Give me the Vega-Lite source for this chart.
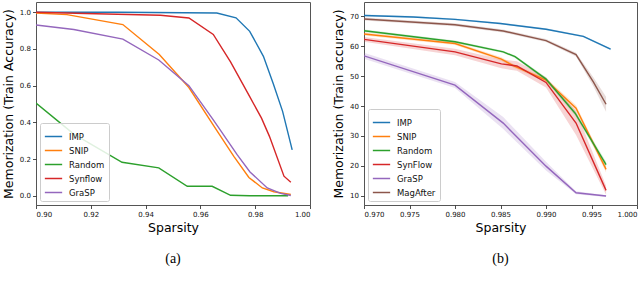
{
  "$schema": "https://vega.github.io/schema/vega-lite/v6.json",
  "padding": {"left": 1, "top": 1, "right": 0, "bottom": 0},
  "spacing": 21,
  "background": "white",
  "resolve": {"scale": {"color": "independent"}, "legend": {"color": "independent"}},
  "config": {
    "view": {"stroke": "#555", "strokeWidth": 1},
    "axis": {
      "grid": false, "domain": false, "tickColor": "#222", "tickSize": 3.5, "tickWidth": 0.8,
      "labelFont": "DejaVu Sans", "labelFontSize": 7, "labelColor": "#111", "labelPadding": 2,
      "labelOverlap": false,
      "titleFont": "DejaVu Sans", "titleFontSize": 12.5, "titleFontWeight": "normal", "titleColor": "#000"
    },
    "legend": {
      "orient": "bottom-left", "title": null, "symbolType": "stroke", "symbolSize": 300,
      "symbolStrokeWidth": 1.5, "labelFont": "DejaVu Sans", "labelFontSize": 8.5, "labelColor": "#111",
      "strokeColor": "#cccccc", "fillColor": "rgba(255,255,255,0.85)", "cornerRadius": 2,
      "padding": 4, "rowPadding": -4.3, "offset": 4, "labelOffset": 6
    },
    "title": {"font": "Liberation Serif", "fontSize": 14, "fontWeight": "normal", "color": "#000"}
  },
  "hconcat": [
    {
      "width": 274, "height": 203,
      "title": {"text": "(a)", "orient": "bottom", "offset": 18},
      "data": {"values": [
        {"s": "IMP", "x": 0.900, "y": 1.0},
        {"s": "IMP", "x": 0.930, "y": 1.0},
        {"s": "IMP", "x": 0.966, "y": 0.996},
        {"s": "IMP", "x": 0.973, "y": 0.97},
        {"s": "IMP", "x": 0.978, "y": 0.896},
        {"s": "IMP", "x": 0.983, "y": 0.76},
        {"s": "IMP", "x": 0.9866, "y": 0.61},
        {"s": "IMP", "x": 0.990, "y": 0.46},
        {"s": "IMP", "x": 0.9935, "y": 0.25},
        {"s": "SNIP", "x": 0.900, "y": 0.996},
        {"s": "SNIP", "x": 0.9113, "y": 0.987},
        {"s": "SNIP", "x": 0.9317, "y": 0.933},
        {"s": "SNIP", "x": 0.945, "y": 0.77},
        {"s": "SNIP", "x": 0.9558, "y": 0.59},
        {"s": "SNIP", "x": 0.965, "y": 0.378},
        {"s": "SNIP", "x": 0.9722, "y": 0.215},
        {"s": "SNIP", "x": 0.9777, "y": 0.10},
        {"s": "SNIP", "x": 0.9826, "y": 0.043},
        {"s": "SNIP", "x": 0.9868, "y": 0.022},
        {"s": "SNIP", "x": 0.993, "y": 0.007},
        {"s": "Random", "x": 0.900, "y": 0.505},
        {"s": "Random", "x": 0.9138, "y": 0.336},
        {"s": "Random", "x": 0.9314, "y": 0.183},
        {"s": "Random", "x": 0.9448, "y": 0.152},
        {"s": "Random", "x": 0.9552, "y": 0.052},
        {"s": "Random", "x": 0.9643, "y": 0.052},
        {"s": "Random", "x": 0.971, "y": 0.003},
        {"s": "Random", "x": 0.978, "y": 0.0},
        {"s": "Random", "x": 0.992, "y": 0.0},
        {"s": "Synflow", "x": 0.900, "y": 1.0},
        {"s": "Synflow", "x": 0.918, "y": 0.993},
        {"s": "Synflow", "x": 0.9454, "y": 0.984},
        {"s": "Synflow", "x": 0.9558, "y": 0.969},
        {"s": "Synflow", "x": 0.9647, "y": 0.879},
        {"s": "Synflow", "x": 0.971, "y": 0.73},
        {"s": "Synflow", "x": 0.978, "y": 0.54},
        {"s": "Synflow", "x": 0.9823, "y": 0.423},
        {"s": "Synflow", "x": 0.9852, "y": 0.324},
        {"s": "Synflow", "x": 0.9905, "y": 0.107},
        {"s": "Synflow", "x": 0.993, "y": 0.074},
        {"s": "GraSP", "x": 0.900, "y": 0.931},
        {"s": "GraSP", "x": 0.9138, "y": 0.906},
        {"s": "GraSP", "x": 0.9317, "y": 0.854},
        {"s": "GraSP", "x": 0.9448, "y": 0.74},
        {"s": "GraSP", "x": 0.9558, "y": 0.60},
        {"s": "GraSP", "x": 0.9649, "y": 0.41},
        {"s": "GraSP", "x": 0.9734, "y": 0.224},
        {"s": "GraSP", "x": 0.9781, "y": 0.13},
        {"s": "GraSP", "x": 0.9844, "y": 0.043},
        {"s": "GraSP", "x": 0.9893, "y": 0.013},
        {"s": "GraSP", "x": 0.993, "y": 0.002}
      ]},
      "mark": {"type": "line", "strokeWidth": 1.4, "clip": true},
      "encoding": {
        "x": {"field": "x", "type": "quantitative", "title": "Sparsity",
              "scale": {"domain": [0.90, 1.00], "nice": false, "zero": false},
              "axis": {"values": [0.90, 0.92, 0.94, 0.96, 0.98, 1.00], "format": ".2f"}},
        "y": {"field": "y", "type": "quantitative", "title": "Memorization (Train Accuracy)",
              "scale": {"domain": [-0.05, 1.056], "nice": false, "zero": false},
              "axis": {"values": [0, 0.2, 0.4, 0.6, 0.8, 1.0], "format": ".1f"}},
        "color": {"field": "s", "type": "nominal",
                  "scale": {"domain": ["IMP", "SNIP", "Random", "Synflow", "GraSP"],
                            "range": ["#1f77b4", "#ff7f0e", "#2ca02c", "#d62728", "#9467bd"]}}
      }
    },
    {
      "width": 273, "height": 203,
      "title": {"text": "(b)", "orient": "bottom", "offset": 18},
      "data": {"values": [
        {"s": "IMP", "x": 0.970, "y": 70.3, "lo": 70.0, "hi": 70.6},
        {"s": "IMP", "x": 0.9754, "y": 69.8, "lo": 69.5, "hi": 70.1},
        {"s": "IMP", "x": 0.980, "y": 69.0, "lo": 68.7, "hi": 69.3},
        {"s": "IMP", "x": 0.985, "y": 67.6, "lo": 67.3, "hi": 67.9},
        {"s": "IMP", "x": 0.990, "y": 65.7, "lo": 65.4, "hi": 66.0},
        {"s": "IMP", "x": 0.9941, "y": 63.3, "lo": 63.0, "hi": 63.6},
        {"s": "IMP", "x": 0.9971, "y": 59.0, "lo": 58.7, "hi": 59.3},
        {"s": "SNIP", "x": 0.970, "y": 64.1, "lo": 63.6, "hi": 64.6},
        {"s": "SNIP", "x": 0.980, "y": 60.9, "lo": 60.4, "hi": 61.4},
        {"s": "SNIP", "x": 0.9851, "y": 55.7, "lo": 55.1, "hi": 56.3},
        {"s": "SNIP", "x": 0.9864, "y": 53.5, "lo": 52.9, "hi": 54.1},
        {"s": "SNIP", "x": 0.990, "y": 48.7, "lo": 48.0, "hi": 49.4},
        {"s": "SNIP", "x": 0.9933, "y": 39.3, "lo": 38.3, "hi": 40.3},
        {"s": "SNIP", "x": 0.9966, "y": 18.8, "lo": 17.8, "hi": 19.8},
        {"s": "Random", "x": 0.970, "y": 65.2, "lo": 64.8, "hi": 65.6},
        {"s": "Random", "x": 0.980, "y": 61.5, "lo": 61.1, "hi": 61.9},
        {"s": "Random", "x": 0.9853, "y": 58.1, "lo": 57.7, "hi": 58.5},
        {"s": "Random", "x": 0.9866, "y": 56.5, "lo": 56.1, "hi": 56.9},
        {"s": "Random", "x": 0.990, "y": 49.0, "lo": 48.4, "hi": 49.6},
        {"s": "Random", "x": 0.9932, "y": 37.6, "lo": 36.8, "hi": 38.4},
        {"s": "Random", "x": 0.9966, "y": 20.4, "lo": 19.4, "hi": 21.4},
        {"s": "SynFlow", "x": 0.970, "y": 62.3, "lo": 61.5, "hi": 63.1},
        {"s": "SynFlow", "x": 0.980, "y": 58.1, "lo": 57.0, "hi": 59.2},
        {"s": "SynFlow", "x": 0.9851, "y": 54.1, "lo": 52.6, "hi": 55.6},
        {"s": "SynFlow", "x": 0.9868, "y": 53.4, "lo": 51.8, "hi": 55.0},
        {"s": "SynFlow", "x": 0.990, "y": 47.9, "lo": 46.2, "hi": 49.6},
        {"s": "SynFlow", "x": 0.9933, "y": 34.3, "lo": 30.3, "hi": 38.3},
        {"s": "SynFlow", "x": 0.9966, "y": 11.8, "lo": 10.3, "hi": 13.3},
        {"s": "GraSP", "x": 0.970, "y": 56.8, "lo": 55.8, "hi": 57.8},
        {"s": "GraSP", "x": 0.980, "y": 47.0, "lo": 46.0, "hi": 48.0},
        {"s": "GraSP", "x": 0.9853, "y": 34.3, "lo": 32.3, "hi": 36.3},
        {"s": "GraSP", "x": 0.990, "y": 19.9, "lo": 18.4, "hi": 21.4},
        {"s": "GraSP", "x": 0.9933, "y": 11.0, "lo": 10.5, "hi": 11.5},
        {"s": "GraSP", "x": 0.9966, "y": 9.9, "lo": 9.6, "hi": 10.2},
        {"s": "MagAfter", "x": 0.970, "y": 69.1, "lo": 68.6, "hi": 69.6},
        {"s": "MagAfter", "x": 0.980, "y": 67.2, "lo": 66.7, "hi": 67.7},
        {"s": "MagAfter", "x": 0.9853, "y": 65.1, "lo": 64.6, "hi": 65.6},
        {"s": "MagAfter", "x": 0.990, "y": 61.9, "lo": 61.4, "hi": 62.4},
        {"s": "MagAfter", "x": 0.9933, "y": 57.2, "lo": 56.6, "hi": 57.8},
        {"s": "MagAfter", "x": 0.9952, "y": 48.1, "lo": 46.6, "hi": 49.6},
        {"s": "MagAfter", "x": 0.9966, "y": 40.6, "lo": 38.1, "hi": 43.1}
      ]},
      "encoding": {
        "x": {"field": "x", "type": "quantitative", "title": "Sparsity",
              "scale": {"domain": [0.970, 1.000], "nice": false, "zero": false},
              "axis": {"values": [0.970, 0.975, 0.980, 0.985, 0.990, 0.995, 1.000], "format": ".3f"}}
      },
      "layer": [
        {
          "mark": {"type": "area", "opacity": 0.2, "clip": true},
          "encoding": {
            "y": {"field": "lo", "type": "quantitative", "title": "Memorization (Train accuracy)",
                  "scale": {"domain": [6.9, 74.8], "nice": false, "zero": false},
                  "axis": {"values": [10, 20, 30, 40, 50, 60, 70], "labelOverlap": false, "format": "d"}},
            "y2": {"field": "hi"},
            "fill": {"field": "s", "type": "nominal", "legend": null,
                     "scale": {"domain": ["IMP", "SNIP", "Random", "SynFlow", "GraSP", "MagAfter"],
                               "range": ["#1f77b4", "#ff7f0e", "#2ca02c", "#d62728", "#9467bd", "#8c564b"]}}
          }
        },
        {
          "mark": {"type": "line", "strokeWidth": 1.4, "clip": true},
          "encoding": {
            "y": {"field": "y", "type": "quantitative", "title": "Memorization (Train accuracy)",
                  "scale": {"domain": [6.9, 74.8], "nice": false, "zero": false},
                  "axis": {"values": [10, 20, 30, 40, 50, 60, 70], "labelOverlap": false, "format": "d"}},
            "color": {"field": "s", "type": "nominal",
                      "scale": {"domain": ["IMP", "SNIP", "Random", "SynFlow", "GraSP", "MagAfter"],
                                "range": ["#1f77b4", "#ff7f0e", "#2ca02c", "#d62728", "#9467bd", "#8c564b"]}}
          }
        }
      ]
    }
  ]
}
